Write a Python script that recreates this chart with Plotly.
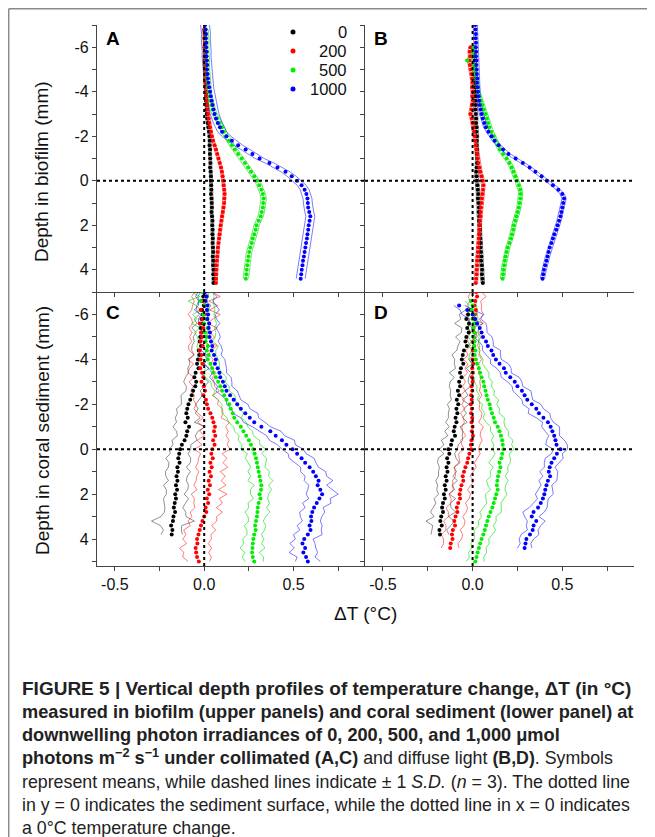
import plotly.graph_objects as go

# ---------------- data ----------------
DEPTH = [-7.0, -6.8, -6.6, -6.4, -6.2, -6.0, -5.8, -5.6, -5.4, -5.2,
         -5.0, -4.8, -4.6, -4.4, -4.2, -4.0, -3.8, -3.6, -3.4, -3.2,
         -3.0, -2.8, -2.6, -2.4, -2.2, -2.0, -1.8, -1.6, -1.4, -1.2,
         -1.0, -0.8, -0.6, -0.4, -0.2, 0.0, 0.2, 0.4, 0.6, 0.8,
         1.0, 1.2, 1.4, 1.6, 1.8, 2.0, 2.2, 2.4, 2.6, 2.8,
         3.0, 3.2, 3.4, 3.6, 3.8, 4.0, 4.2, 4.4, 4.6, 4.8, 5.0]
IRRADIANCE = ["0", "200", "500", "1000"]
X_TICKS = [-0.5, 0.0, 0.5]
X_TICKTEXT = ["-0.5", "0.0", "0.5"]
X_MINOR = [-0.25, 0.25, 0.75]
Y_TICKS = [-6, -4, -2, 0, 2, 4]
Y_TICKTEXT = ["-6", "-4", "-2", "0", "2", "4"]
Y_MINOR = [-7, -5, -3, -1, 1, 3, 5]

# Panel A: biofilm, collimated light
A0_START = -6.8
A0 = [0.002, 0.004, 0.003, 0.005, 0.004, 0.006, 0.005, 0.004, 0.007, 0.006,
      0.008, 0.007, 0.009, 0.008, 0.010, 0.011, 0.010, 0.012, 0.013, 0.014,
      0.017, 0.020, 0.024, 0.027, 0.030, 0.031, 0.030, 0.033, 0.032, 0.034,
      0.035, 0.033, 0.036, 0.038, 0.037, 0.039, 0.040, 0.038, 0.041, 0.042,
      0.043, 0.041, 0.044, 0.046, 0.045, 0.047, 0.046, 0.048, 0.047, 0.049,
      0.050, 0.048, 0.051, 0.050, 0.052, 0.051, 0.053, 0.052]
A0_SD = 0.008
A200_START = -6.8
A200 = [0.000, 0.003, 0.001, 0.004, 0.002, 0.005, 0.003, 0.006, 0.004, 0.007,
        0.006, 0.008, 0.007, 0.010, 0.009, 0.012, 0.014, 0.016, 0.018, 0.021,
        0.025, 0.029, 0.033, 0.038, 0.043, 0.050, 0.058, 0.066, 0.073, 0.080,
        0.087, 0.094, 0.099, 0.103, 0.106, 0.109, 0.112, 0.114, 0.113, 0.112,
        0.108, 0.104, 0.100, 0.096, 0.092, 0.089, 0.086, 0.083, 0.080, 0.077,
        0.075, 0.073, 0.071, 0.069, 0.068, 0.067, 0.066, 0.066]
A200_SD = 0.008
A500_START = -6.8
A500 = [0.008, 0.010, 0.009, 0.012, 0.011, 0.013, 0.012, 0.015, 0.014, 0.016,
        0.018, 0.017, 0.020, 0.023, 0.026, 0.030, 0.035, 0.041, 0.048, 0.058,
        0.072, 0.087, 0.100, 0.110, 0.124, 0.138, 0.155, 0.172, 0.190, 0.210,
        0.228, 0.246, 0.262, 0.280, 0.296, 0.308, 0.320, 0.328, 0.333, 0.330,
        0.328, 0.322, 0.316, 0.305, 0.293, 0.288, 0.280, 0.272, 0.266, 0.258,
        0.252, 0.248, 0.245, 0.241, 0.238, 0.236, 0.233]
A500_SD = 0.015
A1000_START = -7.0
A1000 = [0.005, 0.008, 0.010, 0.009, 0.012, 0.011, 0.014, 0.013, 0.015, 0.017, 0.016,
         0.019, 0.021, 0.024, 0.028, 0.033, 0.037, 0.042, 0.047, 0.052, 0.058,
         0.066, 0.076, 0.088, 0.100, 0.124, 0.155, 0.190, 0.232, 0.270, 0.310,
         0.365, 0.410, 0.455, 0.490, 0.520, 0.545, 0.562, 0.572, 0.578, 0.580,
         0.582, 0.588, 0.594, 0.590, 0.585, 0.582, 0.578, 0.575, 0.570, 0.566,
         0.562, 0.558, 0.553, 0.550, 0.546, 0.543, 0.540]
A1000_SD = 0.025

# Panel B: biofilm, diffuse light
B0_START = -6.0
B0 = [0.008, 0.010, 0.009, 0.012, 0.011, 0.013,
      0.012, 0.014, 0.013, 0.015, 0.014, 0.016, 0.015, 0.017, 0.016, 0.018,
      0.020, 0.019, 0.022, 0.021, 0.024, 0.023, 0.022, 0.025, 0.024, 0.026,
      0.025, 0.023, 0.020, 0.022, 0.024, 0.027, 0.029, 0.031, 0.030, 0.033,
      0.035, 0.034, 0.037, 0.036, 0.039, 0.041, 0.040, 0.043, 0.045, 0.044,
      0.047, 0.049, 0.048, 0.051, 0.053, 0.052, 0.055, 0.057]
B0_SD = 0.010
B200_START = -6.0
B200 = [-0.012, -0.016, -0.014, -0.018, -0.015, -0.010,
        -0.006, -0.003, 0.000, -0.002, 0.001, -0.001, 0.002, -0.004, -0.006, -0.012,
        -0.004, 0.000, 0.004, 0.008, 0.012, 0.015, 0.018, 0.022, 0.025, 0.028,
        0.032, 0.038, 0.043, 0.050, 0.056, 0.060, 0.058, 0.055, 0.052, 0.050,
        0.047, 0.045, 0.044, 0.041, 0.040, 0.038, 0.036, 0.035, 0.033, 0.031,
        0.029, 0.028, 0.026, 0.025, 0.023, 0.022, 0.020, 0.018]
B200_SD = 0.010
B500_START = -6.0
B500 = [0.006, 0.004, 0.003, -0.030, 0.008, 0.010,
        0.015, 0.020, 0.024, 0.027, 0.030, 0.038, 0.047, 0.055, 0.063, 0.072,
        0.080, 0.087, 0.094, 0.105, 0.118, 0.128, 0.140, 0.152, 0.170, 0.190,
        0.205, 0.218, 0.228, 0.238, 0.248, 0.258, 0.265, 0.268, 0.266, 0.262,
        0.258, 0.252, 0.244, 0.238, 0.230, 0.226, 0.220, 0.214, 0.205, 0.196,
        0.190, 0.184, 0.180, 0.176, 0.172, 0.170, 0.167]
B500_SD = 0.012
B1000_START = -7.0
B1000 = [0.015, 0.016, 0.018, 0.017, 0.019, 0.018, 0.020, 0.019, 0.022, 0.021, 0.023,
         0.024, 0.026, 0.025, 0.028, 0.030, 0.033, 0.036, 0.040, 0.045, 0.050,
         0.057, 0.065, 0.074, 0.088, 0.105, 0.122, 0.145, 0.170, 0.200, 0.240,
         0.280, 0.318, 0.350, 0.385, 0.415, 0.448, 0.478, 0.500, 0.510, 0.505,
         0.500, 0.495, 0.490, 0.482, 0.474, 0.466, 0.456, 0.448, 0.440, 0.430,
         0.424, 0.418, 0.412, 0.405, 0.398, 0.394, 0.390]
B1000_SD = 0.012

# Panel C: coral sediment, collimated light
C0_START = -7.0
C0 = [0.000, -0.005, -0.010, -0.002, -0.012, -0.008, -0.015, -0.010, -0.020, -0.014, -0.022,
      -0.025, -0.018, -0.030, -0.028, -0.035, -0.040, -0.032, -0.048, -0.055, -0.045,
      -0.050, -0.062, -0.070, -0.078, -0.088, -0.095, -0.100, -0.092, -0.105, -0.085,
      -0.095, -0.100, -0.110, -0.125, -0.135, -0.140, -0.145, -0.138, -0.150, -0.147,
      -0.155, -0.150, -0.158, -0.152, -0.162, -0.158, -0.165, -0.170, -0.163, -0.172,
      -0.175, -0.185, -0.178, -0.182]
C0_SD = [0.02, 0.03, 0.02, 0.04, 0.03, 0.02, 0.04, 0.03, 0.05, 0.03, 0.04,
         0.03, 0.05, 0.04, 0.03, 0.05, 0.04, 0.06, 0.04, 0.05, 0.07,
         0.05, 0.04, 0.06, 0.05, 0.04, 0.06, 0.05, 0.07, 0.05, 0.09,
         0.06, 0.05, 0.07, 0.05, 0.06, 0.05, 0.07, 0.06, 0.05, 0.07,
         0.06, 0.05, 0.07, 0.06, 0.05, 0.07, 0.06, 0.05, 0.06, 0.07,
         0.12, 0.06, 0.05, 0.06]
C200_START = -7.0
C200 = [-0.005, 0.010, -0.015, 0.005, -0.020, 0.000, -0.010, -0.025, -0.005, -0.018, -0.012,
        -0.020, -0.008, -0.025, -0.015, -0.020, -0.010, -0.022, -0.012, -0.005, -0.015,
        -0.002, 0.005, -0.005, 0.010, 0.015, 0.022, 0.035, 0.045, 0.052, 0.060,
        0.055, 0.062, 0.050, 0.058, 0.045, 0.040, 0.048, 0.035, 0.042, 0.030,
        0.038, 0.025, 0.032, 0.020, 0.028, 0.015, 0.022, 0.008, 0.012, 0.000,
        -0.010, -0.018, -0.025, -0.032, -0.040, -0.038, -0.048, -0.045, -0.040, -0.030]
C200_SD = [0.05, 0.08, 0.04, 0.07, 0.05, 0.09, 0.06, 0.04, 0.08, 0.05, 0.07,
           0.05, 0.08, 0.06, 0.04, 0.07, 0.05, 0.06, 0.08, 0.05, 0.07,
           0.06, 0.08, 0.05, 0.07, 0.06, 0.08, 0.07, 0.05, 0.09, 0.06,
           0.08, 0.06, 0.09, 0.07, 0.10, 0.06, 0.08, 0.07, 0.09, 0.06,
           0.08, 0.07, 0.09, 0.06, 0.10, 0.07, 0.08, 0.06, 0.09, 0.07,
           0.08, 0.06, 0.09, 0.07, 0.08, 0.06, 0.09, 0.07, 0.08, 0.06]
C500_START = -7.0
C500 = [-0.010, 0.015, -0.020, 0.005, 0.020, -0.005, 0.010, 0.000, 0.018, 0.005, 0.012,
        0.008, 0.020, 0.015, 0.025, 0.020, 0.035, 0.045, 0.050, 0.065, 0.078,
        0.090, 0.100, 0.112, 0.125, 0.140, 0.148, 0.160, 0.168, 0.185, 0.205,
        0.220, 0.235, 0.250, 0.262, 0.275, 0.282, 0.290, 0.295, 0.300, 0.305,
        0.310, 0.315, 0.320, 0.318, 0.310, 0.315, 0.305, 0.300, 0.298, 0.295,
        0.290, 0.285, 0.288, 0.280, 0.275, 0.272, 0.270, 0.268, 0.272, 0.280]
C500_SD = [0.06, 0.04, 0.07, 0.05, 0.04, 0.06, 0.05, 0.07, 0.04, 0.06, 0.05,
           0.04, 0.06, 0.05, 0.04, 0.06, 0.05, 0.04, 0.05, 0.06, 0.04,
           0.05, 0.04, 0.06, 0.05, 0.04, 0.05, 0.06, 0.04, 0.05, 0.04,
           0.05, 0.04, 0.06, 0.05, 0.07, 0.04, 0.06, 0.05, 0.04, 0.06,
           0.05, 0.07, 0.04, 0.06, 0.05, 0.04, 0.06, 0.05, 0.07, 0.05,
           0.04, 0.06, 0.05, 0.04, 0.06, 0.05, 0.07, 0.04, 0.06, 0.05]
C1000_START = -7.0
C1000 = [0.005, 0.012, 0.008, 0.018, 0.015, 0.022, 0.018, 0.028, 0.025, 0.032, 0.030,
         0.038, 0.045, 0.042, 0.055, 0.065, 0.060, 0.075, 0.085, 0.090, 0.105,
         0.115, 0.125, 0.145, 0.165, 0.185, 0.205, 0.230, 0.255, 0.280, 0.320,
         0.370, 0.400, 0.435, 0.460, 0.495, 0.520, 0.545, 0.565, 0.590, 0.610,
         0.625, 0.640, 0.635, 0.650, 0.660, 0.645, 0.630, 0.615, 0.605, 0.598,
         0.600, 0.590, 0.595, 0.580, 0.560, 0.550, 0.565, 0.555, 0.570, 0.580]
C1000_SD = [0.04, 0.06, 0.04, 0.05, 0.07, 0.04, 0.05, 0.06, 0.04, 0.05, 0.06,
            0.04, 0.05, 0.06, 0.04, 0.05, 0.06, 0.05, 0.04, 0.06, 0.05,
            0.04, 0.06, 0.05, 0.04, 0.06, 0.05, 0.07, 0.05, 0.06, 0.05,
            0.06, 0.05, 0.07, 0.05, 0.06, 0.05, 0.07, 0.06, 0.05, 0.07,
            0.06, 0.08, 0.05, 0.07, 0.09, 0.06, 0.08, 0.05, 0.07, 0.06,
            0.05, 0.07, 0.06, 0.08, 0.05, 0.07, 0.06, 0.08, 0.05, 0.07]

# Panel D: coral sediment, diffuse light
D0_START = -6.2
D0 = [-0.010, -0.025, -0.035, -0.020, -0.030, -0.022, -0.035,
      -0.040, -0.032, -0.048, -0.055, -0.060, -0.052, -0.065, -0.070, -0.062, -0.075,
      -0.070, -0.082, -0.075, -0.088, -0.080, -0.090, -0.085, -0.095, -0.090, -0.100,
      -0.105, -0.098, -0.115, -0.120, -0.135, -0.130, -0.142, -0.135, -0.145, -0.140,
      -0.150, -0.145, -0.155, -0.150, -0.160, -0.155, -0.165, -0.170, -0.165, -0.175,
      -0.180, -0.172, -0.185, -0.182]
D0_SD = [0.03, 0.05, 0.03, 0.08, 0.03, 0.04, 0.06,
         0.03, 0.05, 0.04, 0.06, 0.04, 0.05, 0.03, 0.06, 0.04, 0.05,
         0.06, 0.04, 0.05, 0.03, 0.06, 0.04, 0.05, 0.04, 0.06, 0.03,
         0.05, 0.04, 0.06, 0.04, 0.05, 0.03, 0.05, 0.06, 0.04, 0.05,
         0.04, 0.06, 0.04, 0.05, 0.03, 0.06, 0.04, 0.05, 0.07, 0.04,
         0.08, 0.05, 0.04, 0.05]
D200_START = -7.0
D200 = [0.020, 0.025, 0.015, 0.010, 0.018, 0.012, 0.008, 0.015, 0.005, 0.010, 0.006,
        0.004, 0.008, 0.002, 0.005, 0.000, 0.004, -0.002, 0.002, -0.004, 0.000,
        -0.006, -0.002, -0.008, -0.005, -0.010, -0.004, -0.008, -0.002, -0.006, 0.000,
        -0.004, 0.002, -0.006, -0.010, -0.008, -0.018, -0.025, -0.030, -0.040, -0.048,
        -0.055, -0.052, -0.062, -0.068, -0.072, -0.070, -0.080, -0.088, -0.085, -0.095,
        -0.102, -0.098, -0.110, -0.115, -0.112, -0.122, -0.125]
D200_SD = [0.03, 0.05, 0.03, 0.04, 0.03, 0.05, 0.03, 0.04, 0.03, 0.02, 0.04,
           0.03, 0.02, 0.04, 0.03, 0.05, 0.03, 0.04, 0.03, 0.05, 0.04,
           0.05, 0.04, 0.06, 0.04, 0.05, 0.04, 0.06, 0.05, 0.04, 0.06,
           0.05, 0.04, 0.06, 0.05, 0.04, 0.06, 0.05, 0.04, 0.06, 0.05,
           0.04, 0.06, 0.05, 0.04, 0.06, 0.05, 0.04, 0.06, 0.05, 0.04,
           0.06, 0.05, 0.04, 0.06, 0.05, 0.04, 0.05]
D500_START = -6.6
D500 = [-0.010, 0.000, -0.005, 0.005, 0.000, 0.008, 0.004, 0.010, 0.006,
        0.012, 0.010, 0.015, 0.012, 0.018, 0.025, 0.035, 0.042, 0.050, 0.060,
        0.065, 0.072, 0.078, 0.085, 0.095, 0.100, 0.108, 0.118, 0.125, 0.140,
        0.150, 0.158, 0.165, 0.168, 0.172, 0.165, 0.160, 0.150, 0.155, 0.148,
        0.142, 0.138, 0.135, 0.140, 0.132, 0.125, 0.118, 0.110, 0.100, 0.090,
        0.082, 0.075, 0.068, 0.060, 0.050, 0.042, 0.035, 0.028, 0.022, 0.015]
D500_SD = [0.03, 0.02, 0.03, 0.02, 0.03, 0.02, 0.03, 0.02, 0.03,
           0.02, 0.03, 0.02, 0.03, 0.04, 0.03, 0.04, 0.05, 0.04, 0.05,
           0.04, 0.05, 0.04, 0.06, 0.04, 0.05, 0.04, 0.06, 0.05, 0.04,
           0.05, 0.04, 0.06, 0.05, 0.06, 0.04, 0.05, 0.06, 0.04, 0.05,
           0.04, 0.06, 0.05, 0.04, 0.06, 0.05, 0.04, 0.05, 0.06, 0.04,
           0.05, 0.04, 0.06, 0.05, 0.04, 0.05, 0.04, 0.05, 0.04, 0.05]
D1000_START = -6.4
D1000 = [-0.075, -0.030, 0.000, 0.015, 0.025, 0.040, 0.050, 0.058,
         0.075, 0.085, 0.105, 0.115, 0.130, 0.150, 0.175, 0.185, 0.210, 0.235,
         0.250, 0.275, 0.290, 0.305, 0.330, 0.355, 0.370, 0.395, 0.420, 0.435,
         0.445, 0.455, 0.462, 0.468, 0.490, 0.470, 0.455, 0.440, 0.430, 0.425,
         0.432, 0.420, 0.412, 0.405, 0.400, 0.392, 0.380, 0.365, 0.340, 0.330,
         0.355, 0.340, 0.335, 0.320, 0.300, 0.295, 0.290]
D1000_SD = [0.03, 0.04, 0.06, 0.03, 0.05, 0.04, 0.03, 0.05,
            0.04, 0.03, 0.05, 0.04, 0.03, 0.05, 0.04, 0.03, 0.05, 0.04,
            0.03, 0.05, 0.04, 0.03, 0.05, 0.04, 0.06, 0.04, 0.03, 0.05,
            0.04, 0.03, 0.05, 0.06, 0.04, 0.03, 0.05, 0.04, 0.03, 0.05,
            0.04, 0.05, 0.03, 0.04, 0.05, 0.03, 0.04, 0.05, 0.06, 0.04,
            0.05, 0.04, 0.03, 0.05, 0.04, 0.03, 0.04]

# ---------------- styling ----------------
FONT = "Liberation Sans, Arial, Helvetica, sans-serif"
COLORS = ["#000000", "#ff0000", "#00ee00", "#0000ff"]
SD_COLORS = ["rgba(0,0,0,0.55)", "rgba(255,0,0,0.65)", "rgba(0,220,0,0.75)", "rgba(0,0,255,0.65)"]
AXIS_COLOR = "#444444"
PAGE_W, PAGE_H = 655, 837
OFF = 8  # the page body margin: the figure is placed 8 px from the page corner
W, H = PAGE_W - OFF, PAGE_H - OFF


def px(x):
    """page x pixel -> paper fraction"""
    return (x - OFF) / W


def py(y):
    """page y pixel -> paper fraction"""
    return 1 - (y - OFF) / H


PANELS = [
    ("A", "x", "y", [(A0_START, A0, A0_SD), (A200_START, A200, A200_SD),
                     (A500_START, A500, A500_SD), (A1000_START, A1000, A1000_SD)]),
    ("B", "x2", "y2", [(B0_START, B0, B0_SD), (B200_START, B200, B200_SD),
                       (B500_START, B500, B500_SD), (B1000_START, B1000, B1000_SD)]),
    ("C", "x3", "y3", [(C0_START, C0, C0_SD), (C200_START, C200, C200_SD),
                       (C500_START, C500, C500_SD), (C1000_START, C1000, C1000_SD)]),
    ("D", "x4", "y4", [(D0_START, D0, D0_SD), (D200_START, D200, D200_SD),
                       (D500_START, D500, D500_SD), (D1000_START, D1000, D1000_SD)]),
]

fig = go.Figure()

for label, xa, ya, series in PANELS:
    for k, (start, vals, sd) in enumerate(series):
        i0 = DEPTH.index(start)
        depths = DEPTH[i0:i0 + len(vals)]
        sds = sd if isinstance(sd, list) else [sd] * len(vals)
        for sign in (1, -1):
            fig.add_trace(go.Scatter(
                x=[v + sign * s for v, s in zip(vals, sds)], y=depths[:len(sds)],
                xaxis=xa, yaxis=ya, mode="lines",
                line=dict(color=SD_COLORS[k], width=0.8),
                showlegend=False, hoverinfo="skip"))
    for k, (start, vals, sd) in enumerate(series):
        i0 = DEPTH.index(start)
        depths = DEPTH[i0:i0 + len(vals)]
        fig.add_trace(go.Scatter(
            x=vals, y=depths, xaxis=xa, yaxis=ya, mode="markers",
            marker=dict(color=COLORS[k], size=4, line=dict(width=0)),
            name=IRRADIANCE[k], legendgroup=IRRADIANCE[k], showlegend=False))

X_DOMS = {"x": [px(97), px(365)], "x2": [px(365), px(634)],
          "x3": [px(97), px(365)], "x4": [px(365), px(634)]}
Y_DOMS = {"y": [py(292), py(25)], "y2": [py(292), py(25)],
          "y3": [py(566), py(292)], "y4": [py(566), py(292)]}
Y_RANGES = {"y": [5, -7], "y2": [5, -7], "y3": [5.2, -7], "y4": [5.2, -7]}

common = dict(showline=True, linecolor=AXIS_COLOR, linewidth=1.2, ticks="outside",
              ticklen=4, tickwidth=1, tickcolor=AXIS_COLOR, showgrid=False,
              zeroline=False, tickfont=dict(family=FONT, size=16, color="#111"))

layout_axes = {}
for xa, ya in [("x", "y"), ("x2", "y2"), ("x3", "y3"), ("x4", "y4")]:
    xname = "xaxis" if xa == "x" else "xaxis" + xa[1:]
    yname = "yaxis" if ya == "y" else "yaxis" + ya[1:]
    layout_axes[xname] = dict(common, domain=X_DOMS[xa], anchor=ya, range=[-0.6, 0.9],
                              tickmode="array", tickvals=X_TICKS, ticktext=X_TICKTEXT,
                              minor=dict(tickmode="array", tickvals=X_MINOR, ticks="outside",
                                         ticklen=4, tickwidth=1, tickcolor=AXIS_COLOR,
                                         showgrid=False),
                              showticklabels=xa in ("x3", "x4"))
    layout_axes[yname] = dict(common, domain=Y_DOMS[ya], anchor=xa, range=Y_RANGES[ya],
                              tickmode="array", tickvals=Y_TICKS, ticktext=Y_TICKTEXT,
                              minor=dict(tickmode="array", tickvals=Y_MINOR, ticks="outside",
                                         ticklen=4, tickwidth=1, tickcolor=AXIS_COLOR,
                                         showgrid=False),
                              showticklabels=ya in ("y", "y3"))

shapes = []
for xa, ya in [("x", "y"), ("x2", "y2"), ("x3", "y3"), ("x4", "y4")]:
    shapes.append(dict(type="line", xref=xa, yref=ya + " domain", x0=0, x1=0, y0=0, y1=1,
                       line=dict(color="black", width=2, dash="dot"), layer="above"))
    shapes.append(dict(type="line", xref=xa + " domain", yref=ya, x0=0, x1=1, y0=0, y1=0,
                       line=dict(color="black", width=2, dash="dot"), layer="above"))
# outer figure frame (left and top)
shapes.append(dict(type="line", xref="paper", yref="paper", x0=px(8.7), x1=1.0, y0=py(8.7), y1=py(8.7),
                   line=dict(color="#8a8a8a", width=1.5)))
shapes.append(dict(type="line", xref="paper", yref="paper", x0=px(8.7), x1=px(8.7), y0=py(8.7), y1=0,
                   line=dict(color="#8a8a8a", width=1.5)))

annotations = []
# legend drawn as keys + right-aligned labels, as in the original figure
LEG_Y = [32, 51, 70, 89]
for k, name in enumerate(IRRADIANCE):
    shapes.append(dict(type="circle", xref="paper", yref="paper",
                       x0=px(290.5), x1=px(295.5), y0=py(LEG_Y[k] + 2.5), y1=py(LEG_Y[k] - 2.5),
                       fillcolor=COLORS[k], line=dict(width=0)))
    annotations.append(dict(text=name, x=px(349), y=py(LEG_Y[k]), xref="paper", yref="paper",
                            xanchor="right", yanchor="middle", showarrow=False,
                            font=dict(family=FONT, size=16.5, color="#111")))

for lab, x, y in [("A", 104, 39), ("B", 372, 39), ("C", 104, 312), ("D", 372, 312)]:
    annotations.append(dict(text="<b>%s</b>" % lab, x=px(x), y=py(y), xref="paper", yref="paper",
                            xanchor="left", yanchor="middle", showarrow=False,
                            font=dict(family=FONT, size=19, color="black")))
annotations.append(dict(text="Depth in biofilm (mm)", x=px(42), y=py(172), xref="paper", yref="paper",
                        textangle=-90, showarrow=False, xanchor="center", yanchor="middle",
                        font=dict(family=FONT, size=19, color="#111")))
annotations.append(dict(text="Depth in coral sediment (mm)", x=px(42), y=py(431), xref="paper",
                        yref="paper", textangle=-90, showarrow=False, xanchor="center",
                        yanchor="middle", font=dict(family=FONT, size=19, color="#111")))
annotations.append(dict(text="\u0394T (\u00b0C)", x=px(365), y=py(613), xref="paper", yref="paper",
                        showarrow=False, xanchor="center", yanchor="middle",
                        font=dict(family=FONT, size=19, color="#111")))

CAPTION = ("<span style='font-size:19px'><b>FIGURE 5 | Vertical depth profiles of temperature change, "
           "\u0394T (in \u00b0C)</b></span><br>"
           "<span style='font-size:18.2px'><b>measured in biofilm (upper panels) and coral sediment "
           "(lower panel) at</b></span><br>"
           "<span style='font-size:18.2px'><b>downwelling photon irradiances of 0, 200, 500, and "
           "1,000 \u03bcmol</b></span><br>"
           "<span style='font-size:18.2px'><b>photons m<sup>\u22122</sup> s<sup>\u22121</sup> under "
           "collimated (A,C)</b></span> and diffuse light <b>(B,D)</b>. Symbols<br>"
           "represent means, while dashed lines indicate \u00b1 1 <i>S.D.</i> (<i>n</i> = 3). "
           "The dotted line<br>"
           "in y = 0 indicates the sediment surface, while the dotted line in x = 0 indicates<br>"
           "a 0\u00b0C temperature change.")
annotations.append(dict(text=CAPTION, x=px(20), y=py(676), xref="paper", yref="paper",
                        xanchor="left", yanchor="top", align="left", showarrow=False,
                        font=dict(family=FONT, size=17.8, color="#222")))

fig.update_layout(
    width=W, height=H, margin=dict(l=0, r=0, t=0, b=0),
    paper_bgcolor="white", plot_bgcolor="white", showlegend=False,
    shapes=shapes, annotations=annotations,
    **layout_axes)

fig.write_html("out.html")
